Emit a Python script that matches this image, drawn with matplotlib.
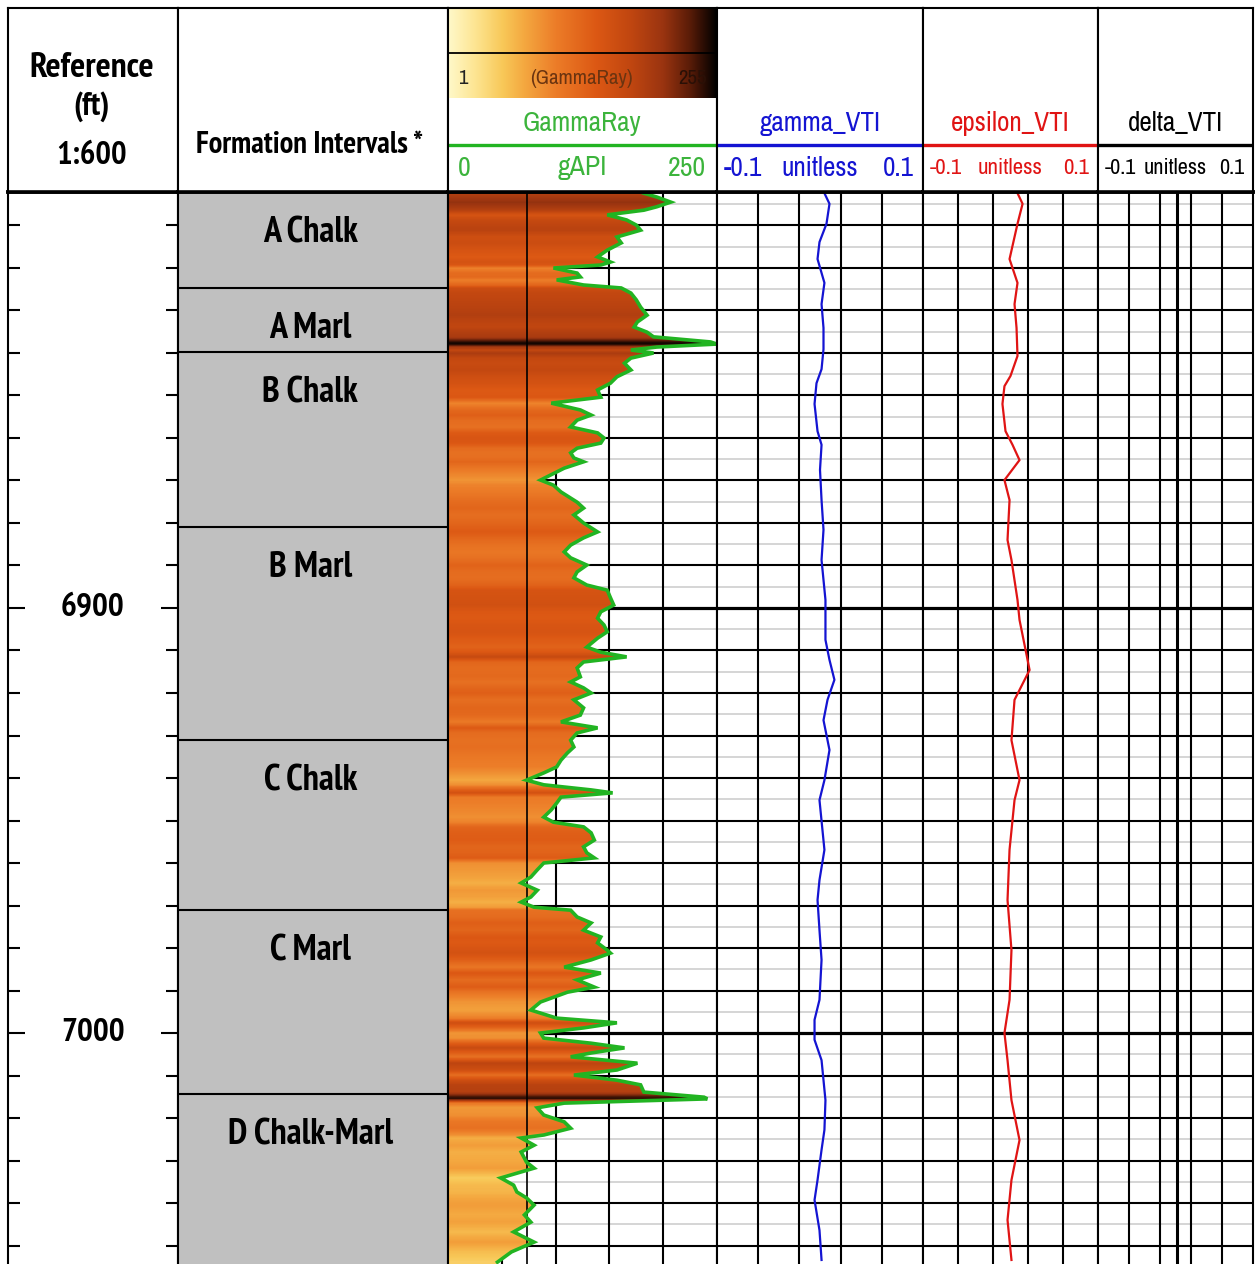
import numpy as np
import matplotlib
matplotlib.use("Agg")
import matplotlib.pyplot as plt
from matplotlib.colors import LinearSegmentedColormap, Normalize
from matplotlib import font_manager
import matplotlib.transforms as mtransforms

# ---------------------------------------------------------------- data
DEPTH_TOP = 6802.12
DEPTH_BOT = 7054.35

depth_labels = [6900, 7000]

formation_names = ["A Chalk", "A Marl", "B Chalk", "B Marl", "C Chalk",
                   "C Marl", "D Chalk-Marl"]
formation_tops = [6800.0, 6824.7, 6839.8, 6880.9, 6931.1, 6971.1, 7014.4]

gr_depth = [6802.4, 6803.3, 6804.5, 6805.6, 6806.4, 6807.5, 6808.7, 6809.9,
            6811.1, 6812.7, 6814.1, 6815.8, 6817.4, 6818.6, 6819.3, 6820.0,
            6821.2, 6822.1, 6822.8, 6824.0, 6824.7, 6825.9, 6827.5, 6829.2,
            6831.1, 6832.7, 6833.9, 6835.1, 6836.2, 6837.4, 6837.9, 6838.6,
            6839.3, 6840.0, 6841.2, 6842.4, 6844.0, 6845.6, 6847.1, 6848.7,
            6850.4, 6851.8, 6853.4, 6854.6, 6855.8, 6857.4, 6858.8, 6860.0,
            6861.2, 6862.4, 6863.5, 6864.7, 6865.6, 6867.1, 6869.9, 6871.1,
            6872.7, 6875.1, 6876.5, 6878.1, 6880.0, 6882.1, 6883.5, 6885.2,
            6886.8, 6888.2, 6889.9, 6891.5, 6892.9, 6894.6, 6895.8, 6897.6,
            6899.3, 6900.9, 6902.4, 6904.0, 6905.6, 6907.1, 6909.2, 6910.4,
            6911.5, 6912.7, 6914.1, 6916.2, 6917.4, 6918.8, 6920.0, 6921.6,
            6923.5, 6925.2, 6926.8, 6928.2, 6929.4, 6931.1, 6932.7, 6934.1,
            6935.8, 6937.4, 6938.8, 6940.5, 6941.6, 6942.8, 6943.5, 6944.5,
            6945.9, 6947.5, 6949.2, 6950.4, 6951.5, 6952.9, 6954.6, 6956.2,
            6957.6, 6958.8, 6960.0, 6961.6, 6963.3, 6964.7, 6966.4, 6968.0,
            6969.2, 6970.4, 6971.1, 6972.7, 6974.1, 6975.8, 6977.4, 6978.8,
            6980.5, 6981.2, 6982.8, 6984.5, 6985.9, 6987.5, 6989.2, 6990.4,
            6992.7, 6994.6, 6996.5, 6997.6, 6998.8, 7000.0, 7001.2, 7002.4,
            7003.5, 7004.7, 7005.6, 7007.1, 7008.7, 7009.9, 7011.1, 7012.2,
            7013.9, 7015.1, 7015.5, 7016.5, 7017.6, 7019.3, 7020.9, 7022.4,
            7024.0, 7024.7, 7026.4, 7028.0, 7030.4, 7031.8, 7034.1, 7035.8,
            7037.4, 7038.8, 7040.5, 7042.8, 7044.5, 7046.8, 7049.2, 7051.5,
            7053.9]
gr_value = [182, 194, 207, 194, 182, 148, 166, 175,
            179, 157, 161, 148, 139, 151, 142, 98,
            120, 123, 101, 126, 161, 170, 175, 179,
            185, 176, 173, 185, 191, 244, 250, 194,
            170, 191, 170, 164, 170, 157, 151, 139,
            142, 96, 123, 133, 120, 114, 139, 145,
            142, 120, 114, 117, 126, 108, 86, 98,
            105, 120, 126, 117, 126, 139, 126, 114,
            108, 114, 129, 120, 117, 129, 148, 151,
            154, 142, 139, 145, 148, 139, 129, 142,
            166, 126, 120, 123, 114, 126, 133, 117,
            126, 123, 105, 139, 120, 114, 117, 111,
            105, 101, 89, 73, 89, 133, 153, 105,
            101, 96, 89, 98, 126, 133, 136, 126,
            129, 136, 89, 83, 77, 68, 83, 77,
            68, 80, 114, 120, 133, 126, 142, 139,
            148, 151, 133, 108, 142, 120, 136, 111,
            86, 77, 101, 157, 126, 86, 89, 133,
            164, 133, 114, 176, 157, 117, 157, 179,
            182, 238, 241, 108, 83, 89, 108, 114,
            89, 68, 80, 68, 73, 80, 49, 61,
            64, 73, 80, 71, 77, 61, 80, 59,
            46]

gamma_depth = [6802.4, 6804.9, 6809.6, 6813.9, 6817.9, 6823.5, 6828.5, 6834.1,
               6839.1, 6843.8, 6847.1, 6852.0, 6858.4, 6861.6, 6867.5, 6874.6,
               6881.6, 6888.7, 6898.1, 6907.5, 6912.2, 6916.9, 6921.6, 6926.4,
               6933.4, 6940.5, 6945.2, 6956.9, 6964.0, 6968.7, 6975.8, 6982.8,
               6992.2, 6996.9, 7001.6, 7006.4, 7015.8, 7022.8, 7027.5, 7034.6,
               7039.3, 7046.4, 7053.4]
gamma_value = [0.0043, 0.0092, 0.0063, -0.0005, -0.0024, 0.0043, 0.0015, 0.0034,
               0.0034, 0.0015, -0.0034, -0.0053, -0.0024, 0.0015, 0.0000, 0.0015,
               0.0034, 0.0015, 0.0053, 0.0053, 0.0092, 0.0140, 0.0073, 0.0034,
               0.0092, 0.0043, -0.0005, 0.0043, -0.0005, -0.0024, -0.0005, 0.0015,
               -0.0005, -0.0053, -0.0053, 0.0015, 0.0053, 0.0043, 0.0015, -0.0024,
               -0.0053, -0.0005, 0.0015]

eps_depth = [6802.4, 6804.9, 6809.6, 6817.9, 6823.5, 6828.5, 6834.1, 6840.7,
             6845.4, 6847.8, 6852.0, 6858.4, 6861.6, 6865.2, 6869.9, 6874.6,
             6884.0, 6888.7, 6898.1, 6902.8, 6912.2, 6914.6, 6921.6, 6931.1,
             6940.5, 6945.2, 6956.9, 6968.7, 6980.5, 6992.2, 7000.0, 7006.4,
             7015.8, 7025.2, 7034.6, 7044.0, 7053.4]
eps_value = [0.0080, 0.0138, 0.0080, -0.0011, 0.0080, 0.0046, 0.0069, 0.0080,
             0.0000, -0.0069, -0.0092, -0.0057, 0.0023, 0.0103, -0.0069, -0.0011,
             -0.0034, 0.0011, 0.0080, 0.0103, 0.0195, 0.0218, 0.0046, 0.0011,
             0.0103, 0.0046, -0.0011, -0.0034, 0.0011, -0.0011, -0.0069, -0.0034,
             0.0011, 0.0103, 0.0011, -0.0034, 0.0011]

delta_depth = [6802.4, 6850.0, 6900.0, 6950.0, 7000.0, 7054.0]
delta_value = [0.0019, 0.0019, 0.0019, 0.0019, 0.0019, 0.0019]

# ---------------------------------------------------------------- fonts
NARROW_FAMILIES = ["Liberation Sans Narrow", "Arial Narrow", "Archivo Narrow",
                   "PT Sans Narrow", "Roboto Condensed", "Fira Sans Condensed",
                   "IBM Plex Sans Condensed", "Encode Sans Condensed",
                   "Asap Condensed", "Sofia Sans Condensed", "Open Sans Condensed",
                   "Liberation Sans"]


def _weight_num(w):
    if isinstance(w, (int, float)):
        return w
    return font_manager.weight_dict.get(str(w).lower(), 400)


def pick_family(bold):
    faces = font_manager.fontManager.ttflist
    for name in NARROW_FAMILIES:
        ws = [_weight_num(f.weight) for f in faces
              if f.name == name and f.style == "normal"]
        if not ws:
            continue
        if bold and not any(w >= 600 for w in ws):
            continue
        if not bold and not any(w < 600 for w in ws):
            continue
        return name
    return "DejaVu Sans"


FONT = pick_family(False)
FONT_BOLD = pick_family(True)
plt.rcParams["font.family"] = [FONT, "DejaVu Sans"]
BOLD = dict(family=[FONT_BOLD, "DejaVu Sans"], fontweight="bold")

# ---------------------------------------------------------------- colours
gr_cmap = LinearSegmentedColormap.from_list("gr_fill", [
    (0.00, "#fff8c8"), (0.10, "#fde490"), (0.20, "#f8c858"), (0.28, "#f4a840"),
    (0.40, "#ec7c28"), (0.55, "#dc5814"), (0.68, "#c04610"), (0.80, "#9a3410"),
    (0.90, "#5a1c08"), (1.00, "#000000")])
gr_cmap.set_bad((0, 0, 0, 0))
gr_norm = Normalize(1, 255)

GREEN = "#22b422"
GREEN_TXT = "#3cb43c"
BLUE = "#1414d2"
RED = "#e01414"

# ---------------------------------------------------------------- layout (pixels)
W, H, DPI = 1255, 1264, 100
TRACK_X = [8, 178, 448, 717, 923, 1098, 1253]
HDR_TOP, HDR_BOT, DATA_BOT = 8, 192, 1264

fig = plt.figure(figsize=(W / DPI, H / DPI), dpi=DPI)
fig.patch.set_facecolor("white")


def add_px_axes(x0, x1, y0, y1):
    return fig.add_axes([x0 / W, 1 - y1 / H, (x1 - x0) / W, (y1 - y0) / H])


def data_axes(i, xlim):
    ax = add_px_axes(TRACK_X[i], TRACK_X[i + 1], HDR_BOT, DATA_BOT)
    ax.set_xlim(*xlim)
    ax.set_ylim(DEPTH_BOT, DEPTH_TOP)
    ax.set_xticks([])
    ax.set_yticks([])
    for s in ("left", "right"):
        ax.spines[s].set_linewidth(1.5)
    ax.spines["top"].set_linewidth(2.6)
    ax.spines["bottom"].set_visible(False)
    for s in ax.spines.values():
        s.set_zorder(10)
    return ax


def header_axes(i):
    hx = add_px_axes(TRACK_X[i], TRACK_X[i + 1], HDR_TOP, HDR_BOT)
    hx.set_xlim(TRACK_X[i], TRACK_X[i + 1])
    hx.set_ylim(HDR_BOT, HDR_TOP)
    hx.set_xticks([])
    hx.set_yticks([])
    for s in hx.spines.values():
        s.set_linewidth(1.5)
    hx.spines["bottom"].set_linewidth(2.6)
    return hx


def depth_grid(ax, zorder=1):
    for d in np.arange(6805, 7055, 10):
        ax.axhline(d, color="#d2d2d2", lw=1.3, zorder=zorder)
    for d in np.arange(6810, 7055, 10):
        if d % 100 == 0:
            ax.axhline(d, color="black", lw=2.3, zorder=zorder + 0.2)
        else:
            ax.axhline(d, color="black", lw=1.5, zorder=zorder + 0.1)


# ---------------------------------------------------------------- depth track
ax = data_axes(0, (0, 1))
ax.set_yticks(depth_labels)
ax.set_yticks(np.arange(6810, 7055, 10), minor=True)
ax.tick_params(axis="y", which="both", direction="in", left=True, right=True,
               labelleft=False, width=1.5, color="black")
ax.tick_params(axis="y", which="major", length=12)
ax.tick_params(axis="y", which="minor", length=8.5)
for d in depth_labels:
    ax.text(0.5, d, str(d), ha="center", va="center", fontsize=24, **BOLD,
            transform=mtransforms.blended_transform_factory(ax.transAxes, ax.transData))

hx = header_axes(0)
for txt, y, fs in (("Reference", 68, 25.5), ("(ft)", 107, 23.5), ("1:600", 156, 23.5)):
    hx.text(92, y, txt, ha="center", va="center", fontsize=fs, **BOLD)

# ---------------------------------------------------------------- formation track
ax = data_axes(1, (0, 1))
bounds = formation_tops + [DEPTH_BOT]
for name, top, bot in zip(formation_names, bounds[:-1], bounds[1:]):
    ax.axhspan(top, bot, color="#c0c0c0", lw=0, zorder=1)
    if top > DEPTH_TOP:
        ax.axhline(top, color="black", lw=1.5, zorder=2)
    ax.text(0.49, max(top, DEPTH_TOP) + 9.6, name, ha="center", va="center",
            fontsize=26, **BOLD,
            transform=mtransforms.blended_transform_factory(ax.transAxes, ax.transData))

hx = header_axes(1)
hx.text(310, 145, "Formation Intervals *", ha="center", va="center",
        fontsize=22, **BOLD)

# ---------------------------------------------------------------- gamma ray track
ax = data_axes(2, (0, 250))
depth_grid(ax)
for g in (50, 100, 150, 200):
    ax.axvline(g, color="black", lw=1.5, zorder=1.5)

dgrid = np.linspace(DEPTH_TOP, DEPTH_BOT, 4000)
gr_i = np.interp(dgrid, gr_depth, gr_value)
xg = np.linspace(0, 250, 700)
Z = np.where(xg[None, :] <= gr_i[:, None], gr_i[:, None], np.nan)
ax.imshow(Z, cmap=gr_cmap, norm=gr_norm, extent=[0, 250, DEPTH_BOT, DEPTH_TOP],
          aspect="auto", interpolation="nearest", origin="upper", zorder=2)
ax.axvline(73, color="black", lw=1.2, zorder=3)
ax.plot(gr_value, gr_depth, color=GREEN, lw=2.6, zorder=4, solid_joinstyle="miter")
ax.set_xlim(0, 250)
ax.set_ylim(DEPTH_BOT, DEPTH_TOP)

hx = header_axes(2)
bar = np.linspace(1, 255, 256)[None, :]
hx.imshow(bar, cmap=gr_cmap, norm=gr_norm, extent=[449, 717, 98, 8],
          aspect="auto", interpolation="bilinear")
hx.set_xlim(TRACK_X[2], TRACK_X[3])
hx.set_ylim(HDR_BOT, HDR_TOP)
hx.plot([449, 717], [53, 53], color="black", lw=1.3)
hx.text(458, 78, "1", ha="left", va="center", fontsize=15, color="#222222")
hx.text(581, 78, "(GammaRay)", ha="center", va="center", fontsize=15, color="#6b3410")
hx.text(707, 78, "255", ha="right", va="center", fontsize=15, color="#2a1006")
hx.text(582, 123, "GammaRay", ha="center", va="center", fontsize=19.5, color=GREEN_TXT)
hx.plot([448, 717], [145, 145], color=GREEN, lw=2.4)
hx.text(458, 168, "0", ha="left", va="center", fontsize=20, color=GREEN_TXT)
hx.text(582, 168, "gAPI", ha="center", va="center", fontsize=20, color=GREEN_TXT)
hx.text(706, 168, "250", ha="right", va="center", fontsize=20, color=GREEN_TXT)


# ---------------------------------------------------------------- anisotropy tracks
def vti_track(i, depth, value, color, title, unit_size, lw=1.6):
    ax = data_axes(i, (-0.1, 0.1))
    depth_grid(ax)
    for v in (-0.06, -0.02, 0.02, 0.06):
        ax.axvline(v, color="black", lw=1.5, zorder=1.5)
    ax.plot(value, depth, color=color, lw=lw, zorder=4)
    ax.set_xlim(-0.1, 0.1)
    ax.set_ylim(DEPTH_BOT, DEPTH_TOP)

    hx = header_axes(i)
    x0, x1 = TRACK_X[i], TRACK_X[i + 1]
    xc = (x0 + x1) / 2
    hx.text(xc, 123, title, ha="center", va="center", fontsize=19.5, color=color)
    hx.plot([x0, x1], [145, 145], color=color, lw=2.4)
    hx.text(x0 + 7, 168, "-0.1", ha="left", va="center", fontsize=unit_size, color=color)
    hx.text(xc, 168, "unitless", ha="center", va="center", fontsize=unit_size, color=color)
    hx.text(x1 - 9, 168, "0.1", ha="right", va="center", fontsize=unit_size, color=color)
    return ax


vti_track(3, gamma_depth, gamma_value, BLUE, "gamma_VTI", 19.5)
vti_track(4, eps_depth, eps_value, RED, "epsilon_VTI", 16.5)
vti_track(5, delta_depth, delta_value, "black", "delta_VTI", 16, lw=2.2)

fig.savefig("out.png", dpi=DPI)
